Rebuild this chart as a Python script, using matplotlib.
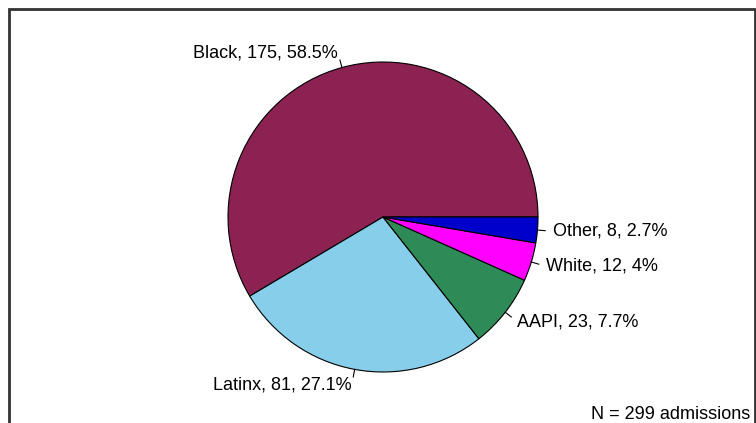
import numpy as np
import matplotlib
matplotlib.use("Agg")
import matplotlib.pyplot as plt
from matplotlib.patches import Rectangle

# data (counterclockwise from 3 o'clock, as in base R pie)
groups = ["Black", "Latinx", "AAPI", "White", "Other"]
counts = [175, 81, 23, 12, 8]
pct_labels = ["58.5%", "27.1%", "7.7%", "4%", "2.7%"]
colors = ["#8B2252", "#87CEEB", "#2E8B57", "#FF00FF", "#0000CD"]
total_text = "N = 299 admissions"

W, H = 756, 423
fig = plt.figure(figsize=(W / 100, H / 100), dpi=100)
ax = fig.add_axes([0, 0, 1, 1])

cx, cy, r = 383, H - 217, 155

ax.pie(counts, colors=colors, startangle=0, counterclock=True,
       radius=r, center=(cx, cy),
       wedgeprops=dict(edgecolor="black", linewidth=0.8))

font = ["Liberation Sans", "DejaVu Sans"]

# labels with short tick lines, like R's pie()
vals = np.array(counts, dtype=float)
edges = np.concatenate([[0], np.cumsum(vals) / vals.sum() * 360])
for i, g in enumerate(groups):
    mid = np.deg2rad((edges[i] + edges[i + 1]) / 2)
    c, s = np.cos(mid), np.sin(mid)
    ax.plot([cx + r * c, cx + 1.05 * r * c], [cy + r * s, cy + 1.05 * r * s],
            color="black", linewidth=0.8)
    ax.text(cx + 1.1 * r * c, cy + 1.1 * r * s,
            f"{g}, {counts[i]}, {pct_labels[i]}",
            ha="left" if c > 0 else "right", va="center",
            fontsize=13, family=font)

ax.text(750, H - 414, total_text, ha="right", va="center",
        fontsize=13, family=font)

# outer frame (bottom edge falls outside the image)
ax.add_patch(Rectangle((9, -20), 746, H - 9 + 20, fill=False,
                       edgecolor="#333333", linewidth=2))

ax.set_xlim(0, W)
ax.set_ylim(0, H)
ax.set_aspect("auto")
ax.axis("off")

fig.savefig("out.png", dpi=100)
